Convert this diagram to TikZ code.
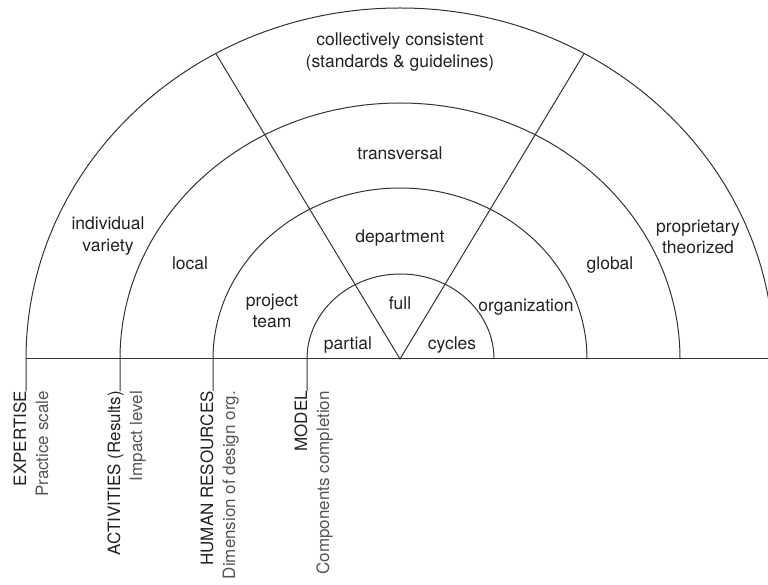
\documentclass[tikz,border=0pt]{standalone}
\usepackage{fontspec}
\setmainfont{TeX Gyre Heros}
\usetikzlibrary{calc}
\definecolor{ln}{HTML}{333333}
\definecolor{tx}{HTML}{222222}
\definecolor{sub}{HTML}{555555}
\begin{document}
\begin{tikzpicture}[x=1pt,y=1pt,
  arcline/.style={draw=ln, line width=1pt},
  lbl/.style={text=tx, font=\fontsize{17.5}{21.5}\selectfont, align=center, inner sep=0pt},
  ttl/.style={text=tx, font=\fontsize{17}{21}\selectfont, rotate=90, anchor=base east, inner sep=0pt},
  sbt/.style={ttl, text=sub}]
\clip (0,0) rectangle (768,584);
\coordinate (c) at (400,225);
% leader ends
\coordinate (e1) at (26,193);
\coordinate (e2) at (120,193);
\coordinate (e3) at (213,193);
\coordinate (e4) at (307,193);
% arcs with leaders
\draw[arcline] (e1) -- (26,225) arc[start angle=180, end angle=0, x radius=374pt, y radius=351pt];
\draw[arcline] (e2) -- (120,225) arc[start angle=180, end angle=0, x radius=280pt, y radius=256pt];
\draw[arcline] (e3) -- (213,225) arc[start angle=180, end angle=0, x radius=187pt, y radius=171pt];
\draw[arcline] (e4) -- (307,225) arc[start angle=180, end angle=0, x radius=93.5pt, y radius=85pt];
% baseline
\coordinate (bl) at (26,225);
\coordinate (br) at (768,225);
\draw[arcline] (bl) -- (br);
% spokes
\coordinate (sl) at ($(c)+(119.5:374pt and 351pt)$);
\coordinate (sr) at ($(c)+(60.5:374pt and 351pt)$);
\draw[arcline] (sl) -- (c) -- (sr);
% ring labels
\node[lbl] (cc) at (400,532) {collectively consistent\\(standards \& guidelines)};
\node[lbl] (tr) at (400,431) {transversal};
\node[lbl] (iv) at (108,348) {individual\\variety};
\node[lbl] (lo) at (190,321) {local};
\node[lbl] (de) at (400,346) {department};
\node[lbl] (pt) at (272,273) {project\\team};
\node[lbl] (gl) at (610,319) {global};
\node[lbl] (pr) at (698,347) {proprietary\\theorized};
\node[lbl] (fu) at (400,281) {full};
\node[lbl] (or) at (526,277) {organization};
\node[lbl] (pa) at (348,239) {partial};
\node[lbl] (cy) at (452,239) {cycles};
% axis labels
\node[ttl] (t1) at (e1) {EXPERTISE};
\node[sbt] (s1) at ($(e1)+(22,0)$) {Practice scale};
\node[ttl] (t2) at (e2) {ACTIVITIES (Results)};
\node[sbt] (s2) at ($(e2)+(22,0)$) {Impact level};
\node[ttl] (t3) at (e3) {HUMAN RESOURCES};
\node[sbt] (s3) at ($(e3)+(22,0)$) {Dimension of design org.};
\node[ttl] (t4) at (e4) {MODEL};
\node[sbt] (s4) at ($(e4)+(22,0)$) {Components completion};
\end{tikzpicture}
\end{document}
